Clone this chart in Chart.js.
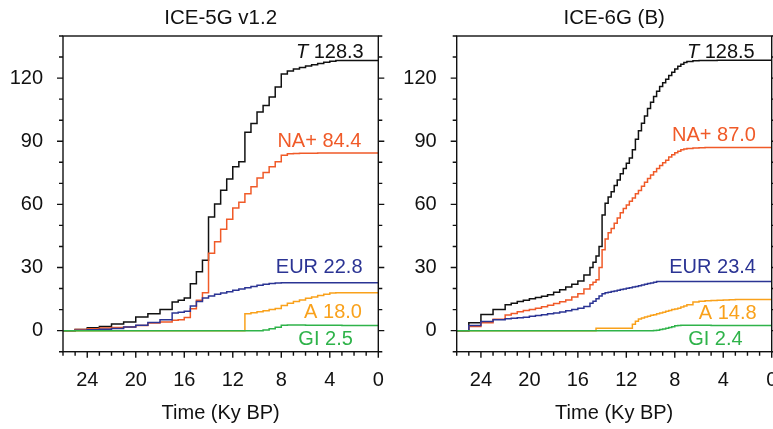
<!DOCTYPE html>
<html><head><meta charset="utf-8">
<script src="https://cdn.jsdelivr.net/npm/chart.js@4.4.1/dist/chart.umd.min.js"></script>
<style>
html,body{margin:0;padding:0;background:#fff;}
body{width:773px;height:429px;position:relative;overflow:hidden;}
canvas{position:absolute;top:0;}
#c1{left:0;width:392px;height:429px;}
#c2{left:393px;width:380px;height:429px;}
</style></head><body>
<canvas id="c1" width="392" height="429"></canvas>
<canvas id="c2" width="380" height="429"></canvas>
<script>
// ---------- DATA ----------
const seriesNames = ['T', 'NA+', 'EUR', 'A', 'GI'];
const seriesColors = ['#111111', '#f05a28', '#2b3494', '#f9a11b', '#2fb34a'];
const yTickValues = [0, 30, 60, 90, 120];
const xTickValues = [24, 20, 16, 12, 8, 4, 0];

// ICE-5G v1.2 (time in ky BP, value in m)
const time5 = [26,25,24,23,22,21,20,19,18,17,
  16.5,16,15.5,15,14.5,14,13.5,13,12.5,12,11.5,11,10.5,10,9.5,9,8.5,8,7.5,7,6.5,6,5.5,5,4.5,4,3.5,3,2.5,2,1.5,1,0.5,0];
const t5 = [0,0.5,1.4,2.0,3.2,4.1,6.5,8.0,10.0,13.6,
  14.4,15.5,22.3,28.0,33.5,54.0,60.2,66.7,72.0,77.9,80.2,94.3,98.4,103.9,107.0,111.0,115.8,121.9,123.4,124.3,125.0,125.7,126.3,126.9,127.5,128.0,128.3,
  128.3,128.3,128.3,128.3,128.3,128.3,128.3];
const na5 = [0,0.5,0.9,1.3,1.5,1.7,2.4,3.6,4.1,4.9,
  5.2,6.3,10.4,14.5,18.0,36.8,42.3,48.2,52.9,58.3,61.0,65.0,68.4,72.5,75.2,77.9,80.2,83.3,84.0,84.2,84.3,84.3,84.3,84.4,
  84.4,84.4,84.4,84.4,84.4,84.4,84.4,84.4,84.4,84.4];
const eur5 = [0,0.2,0.4,0.7,1.0,1.7,2.6,3.9,5.2,8.4,
  8.7,9.2,11.7,13.9,15.5,16.5,17.3,17.9,18.5,19.2,19.8,20.4,21.0,21.6,22.0,22.4,22.7,22.8,
  22.8,22.8,22.8,22.8,22.8,22.8,22.8,22.8,22.8,22.8,22.8,22.8,22.8,22.8,22.8,22.8];
const a5 = [0,0,0,0,0,0,0,0,0,0,
  0,0,0,0,0,0,0,0,0,0,0,
  8.0,8.5,9.0,9.5,10.0,10.5,12.0,13.0,13.8,14.6,15.4,16.0,16.7,17.3,17.9,18.0,
  18.0,18.0,18.0,18.0,18.0,18.0,18.0];
const gi5 = [0,0,0,0,0,0,0,0,0,0,
  0,0,0,0,0,0,0,0,0,0,0,0,0,0,
  0.3,0.9,1.6,2.6,2.7,2.7,2.7,2.6,2.6,2.6,2.6,2.6,2.6,2.5,
  2.5,2.5,2.5,2.5,2.5,2.5];
const totals5 = ['128.3', '84.4', '22.8', '18.0', '2.5'];

// ICE-6G (B)
const time6 = [26,25,24,23,22,
  21.5,21,20.5,20,19.5,19,18.5,18,17.5,17,16.5,16,15.5,15,
  14.75,14.5,14.25,14,13.75,13.5,13.25,13,12.75,12.5,12.25,12,11.75,11.5,11.25,11,
  10.75,10.5,10.25,10,9.75,9.5,9.25,9,8.75,8.5,8.25,8,7.75,7.5,7.25,7,
  6.5,6,5.5,5,4.5,4,3.5,3,2.5,2,1.5,1,0.5,0];
const t6 = [0,3.8,7.7,10.0,12.3,
  13.0,13.9,14.5,15.1,15.7,16.3,17.1,18.2,19.4,20.8,22.0,23.6,26.5,30.0,
  32.5,35.5,40.0,55.0,60.5,63.5,66.0,69.0,71.6,74.5,77.0,79.5,82.0,86.0,91.0,95.0,
  98.5,102.0,105.5,108.5,111.3,113.8,116.0,117.8,119.5,121.2,122.8,124.3,125.6,126.6,127.4,127.9,
  128.2,128.3,128.4,128.4,128.5,128.5,128.5,128.5,128.5,128.5,128.5,128.5,128.5,128.5];
const na6 = [0,2.0,3.8,5.4,7.4,
  8.2,9.0,9.6,10.1,10.7,11.4,12.1,12.9,13.7,14.6,16.0,17.5,19.8,21.8,
  23.0,24.2,30.0,38.4,43.5,46.5,48.5,51.0,53.5,56.0,58.0,59.7,61.5,63.0,65.0,66.6,
  68.6,70.5,72.3,74.0,75.5,77.0,78.5,79.8,81.0,82.5,83.6,84.5,85.3,85.9,86.3,86.5,
  86.8,86.9,87.0,87.0,87.0,87.0,87.0,87.0,87.0,87.0,87.0,87.0,87.0,87.0];
const eur6 = [0,2.5,4.4,5.2,5.6,
  5.9,6.1,6.4,6.8,7.2,7.6,8.0,8.4,8.9,9.5,10.1,10.7,11.5,13.0,
  14.0,15.2,16.5,17.5,18.0,18.3,18.6,18.9,19.2,19.5,19.8,20.1,20.4,20.7,21.0,21.3,
  21.7,22.0,22.4,22.7,23.0,23.3,23.4,23.4,23.4,23.4,23.4,23.4,23.4,23.4,23.4,23.4,
  23.4,23.4,23.4,23.4,23.4,23.4,23.4,23.4,23.4,23.4,23.4,23.4,23.4,23.4];
const a6 = [0,0,0,0,0,
  0,0,0,0,0,0,0,0,0,0,0,0,0,0,
  0,1.2,1.2,1.2,1.2,1.2,1.2,1.2,1.2,1.2,1.2,1.2,1.2,3.0,4.5,5.5,
  6.0,6.5,6.9,7.3,7.6,8.0,8.4,8.8,9.2,9.6,10.0,10.3,10.7,11.2,11.7,12.3,
  13.6,14.0,14.2,14.3,14.4,14.6,14.7,14.8,14.8,14.8,14.8,14.8,14.8,14.8];
const gi6 = [0,0,0,0,0,
  0,0,0,0,0,0,0,0,0,0,0,0,0,0,
  0,0,0,0,0,0,0,0,0,0,0,0,0,0,0,0,
  0,0,0,0,0.1,0.2,0.5,0.8,1.1,1.5,1.9,2.3,2.5,2.6,2.6,2.6,
  2.6,2.6,2.6,2.5,2.5,2.5,2.5,2.5,2.4,2.4,2.4,2.4,2.4,2.4];
const totals6 = ['128.5', '87.0', '23.4', '14.8', '2.4'];

// ---------- RENDERING ----------
const FONT = "'Liberation Sans', Arial, Helvetica, sans-serif";
Chart.defaults.font.family = FONT;
Chart.defaults.font.size = 20;
Chart.defaults.color = '#111';

const panelPlugin = {
  id: 'panel',
  afterDraw(chart, args, o) {
    const {ctx, chartArea: a, scales: {x, y}} = chart;
    ctx.save();
    ctx.strokeStyle = '#111';
    ctx.lineWidth = 1.4;
    ctx.beginPath();
    for (let v = -10; v <= 140; v += 10) {
      const py = y.getPixelForValue(v);
      const len = v % 30 === 0 ? 6 : 4;
      ctx.moveTo(a.left, py); ctx.lineTo(a.left - len, py);
      ctx.moveTo(a.right, py); ctx.lineTo(a.right + len, py);
    }
    for (let t = 0; t <= 26; t++) {
      const px = x.getPixelForValue(t);
      const len = t % 4 === 0 ? 6 : 4;
      ctx.moveTo(px, a.bottom); ctx.lineTo(px, a.bottom + len);
    }
    ctx.stroke();
    ctx.strokeRect(a.left, a.top, a.right - a.left, a.bottom - a.top);
    // series labels
    ctx.textBaseline = 'middle';
    ctx.textAlign = 'right';
    o.names.forEach((name, i) => {
      const px = x.getPixelForValue(o.labelX[i]);
      const py = y.getPixelForValue(o.labelY[i]);
      ctx.fillStyle = o.colors[i];
      if (name === 'T') {
        const rest = ' ' + o.totals[i];
        ctx.font = '20px ' + FONT;
        const w = ctx.measureText(rest).width;
        ctx.fillText(rest, px, py);
        ctx.font = 'italic 20px ' + FONT;
        ctx.fillText(name, px - w, py);
      } else {
        ctx.font = '20px ' + FONT;
        ctx.fillText(name + ' ' + o.totals[i], px, py);
      }
    });
    ctx.restore();
  }
};

function makeChart(id, titleText, times, seriesVals, totals, labelX, labelY, yWidth, padRight) {
  const order = [4, 3, 2, 1, 0]; // GI drawn on top
  const datasets = order.map(i => ({
    label: seriesNames[i],
    data: times.map((t, k) => ({x: t, y: seriesVals[i][k]})),
    borderColor: seriesColors[i],
    borderWidth: 1.5,
    pointRadius: 0,
    stepped: true,
    fill: false,
    tension: 0
  }));
  return new Chart(document.getElementById(id), {
    type: 'line',
    data: {datasets},
    plugins: [panelPlugin],
    options: {
      responsive: false,
      animation: false,
      events: [],
      devicePixelRatio: 1,
      layout: {padding: {left: 0, right: padRight, top: 0, bottom: 0}},
      plugins: {
        legend: {display: false},
        tooltip: {enabled: false},
        title: {
          display: true, text: titleText, fullSize: false,
          font: {size: 20.5, weight: 'normal'}, color: '#111',
          padding: {top: 6, bottom: 5.4}
        },
        panel: {names: seriesNames, totals, labelX, labelY, colors: seriesColors}
      },
      scales: {
        x: {
          type: 'linear', min: 0, max: 26, reverse: true,
          grid: {display: false, drawTicks: false},
          border: {display: false},
          ticks: {
            autoSkip: false, maxRotation: 0, padding: 17,
            font: {size: 20}, color: '#111',
            callback: v => String(v)
          },
          afterBuildTicks: s => { s.ticks = xTickValues.map(v => ({value: v})); },
          title: {display: true, text: 'Time (Ky BP)', font: {size: 20}, color: '#111', padding: {top: 0, bottom: 4}},
          afterFit: s => { s.height = 77.3; s.paddingLeft = 0; s.paddingRight = 0; }
        },
        y: {
          type: 'linear', min: -10, max: 140,
          grid: {display: false, drawTicks: false},
          border: {display: false},
          ticks: {
            autoSkip: false, padding: 20,
            font: {size: 20}, color: '#111',
            callback: v => String(v)
          },
          afterBuildTicks: s => { s.ticks = yTickValues.map(v => ({value: v})); },
          afterFit: s => { s.width = yWidth; s.paddingTop = 0; s.paddingBottom = 0; }
        }
      }
    }
  });
}

makeChart('c1', 'ICE-5G v1.2', time5, [t5, na5, eur5, a5, gi5], totals5,
  [1.2, 1.4, 1.3, 1.35, 2.1], [132.2, 90.0, 29.9, 8.4, -4.4], 63, 13.7);
makeChart('c2', 'ICE-6G (B)', time6, [t6, na6, eur6, a6, gi6], totals6,
  [1.4, 1.3, 1.3, 1.25, 2.4], [132.2, 92.6, 29.9, 8.0, -4.1], 63.7, 1.3);
</script>
</body></html>
